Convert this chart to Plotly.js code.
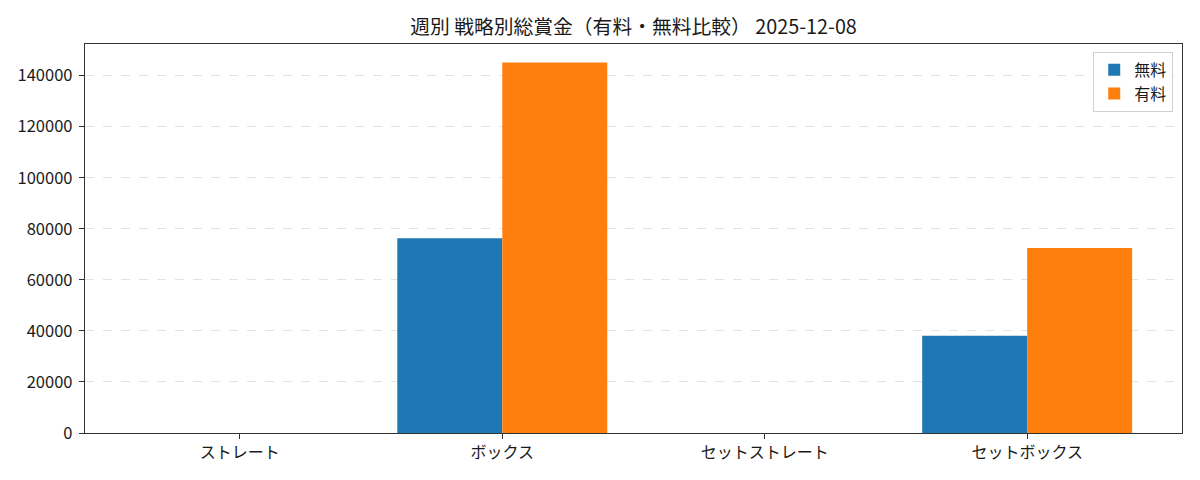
<!DOCTYPE html>
<html>
<head>
<meta charset="utf-8">
<script src="https://cdn.plot.ly/plotly-3.0.1.min.js"></script>
<style>
  body { margin: 0; background: #fff; }
  #chart { width: 1200px; height: 480px; }
</style>
</head>
<body>
<div id="chart"></div>
<script>
// Data
var strategies = ["ストレート", "ボックス", "セットストレート", "セットボックス"];
var freeTotals = [0, 76300, 0, 38100];
var paidTotals = [0, 145200, 0, 72500];
var yTicks = [0, 20000, 40000, 60000, 80000, 100000, 120000, 140000];

var font = "'Noto Sans CJK JP', 'DejaVu Sans', sans-serif";

var traceFree = {
    x: [0, 1, 2, 3],
    y: freeTotals,
    type: "bar",
    name: "無料",
    marker: { color: "#1f77b4" },
    hoverinfo: "skip"
};
var tracePaid = {
    x: [0, 1, 2, 3],
    y: paidTotals,
    type: "bar",
    name: "有料",
    marker: { color: "#ff7f0e" },
    hoverinfo: "skip"
};

var layout = {
    width: 1200,
    height: 480,
    font: { family: font, size: 16, color: "#1a1a1a" },
    title: {
        text: "週別 戦略別総賞金（有料・無料比較） 2025-12-08",
        font: { size: 19.8, color: "#1a1a1a" },
        xref: "paper", x: 0.5, xanchor: "center",
        yref: "container", y: 0.944, yanchor: "middle"
    },
    margin: { l: 85, r: 18, t: 44, b: 47 },
    barmode: "group",
    bargap: 0.2,
    bargroupgap: 0,
    paper_bgcolor: "#fff",
    plot_bgcolor: "#fff",
    xaxis: {
        range: [-0.59, 3.59],
        tickvals: [0, 1, 2, 3],
        ticktext: strategies,
        ticks: "outside",
        ticklen: 5,
        tickcolor: "#333",
        showgrid: false,
        zeroline: false,
        showline: true,
        linecolor: "#333",
        linewidth: 1.2,
        mirror: true,
        tickfont: { size: 16 }
    },
    yaxis: {
        range: [0, 152400],
        tickvals: yTicks,
        ticktext: yTicks.map(String),
        ticks: "outside",
        ticklen: 5,
        tickcolor: "#333",
        ticklabelstandoff: 3,
        showgrid: true,
        gridcolor: "#e3e3e3",
        griddash: "dash",
        zeroline: false,
        showline: true,
        linecolor: "#333",
        linewidth: 1.2,
        mirror: true,
        tickfont: { size: 16.5 }
    },
    showlegend: true,
    legend: {
        x: 0.992,
        y: 0.98,
        xanchor: "right",
        yanchor: "top",
        bgcolor: "rgba(255,255,255,0.8)",
        bordercolor: "#d0d0d0",
        borderwidth: 1,
        font: { size: 16 }
    }
};

Plotly.newPlot("chart", [traceFree, tracePaid], layout, { staticPlot: true });
</script>
</body>
</html>
